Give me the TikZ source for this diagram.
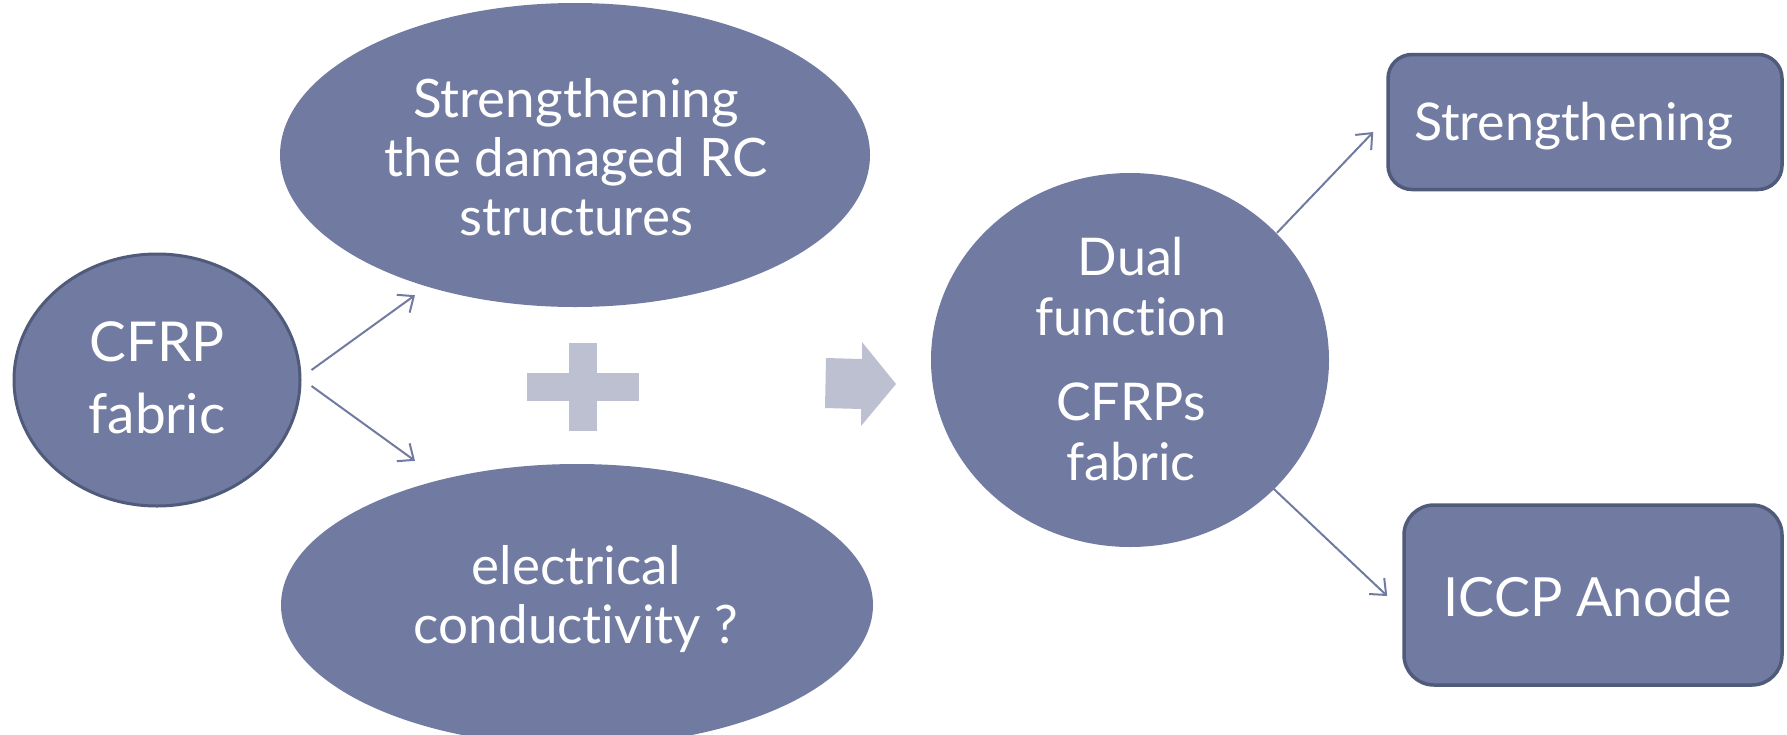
\documentclass[tikz,border=0pt]{standalone}
\usepackage{fontspec}
\setmainfont{Lato}[Ligatures={NoCommon}]
\usetikzlibrary{shapes.geometric,arrows.meta}
\definecolor{fillc}{HTML}{717BA1}
\definecolor{edgec}{HTML}{505A7A}
\definecolor{plusc}{HTML}{BCC0D0}
\begin{document}
\begin{tikzpicture}[x=1pt,y=-1pt,
  oval/.style={ellipse, fill=fillc, inner sep=0pt},
  rbox/.style={rectangle, rounded corners=24pt, fill=fillc, draw=edgec, line width=3.5pt, inner sep=0pt},
  txt/.style={text=white, align=center, inner sep=0pt, font=\fontsize{53}{59}\selectfont},
  conn/.style={draw=fillc, line width=2pt, -{Straight Barb[length=13pt,width=22pt,line width=2pt]}},
  plusfill/.style={fill=plusc, draw=none}]
\useasboundingbox (0,0) rectangle (1787,734);
% shapes
\node[oval, draw=edgec, line width=3pt, minimum width=286pt, minimum height=252pt] (cfrp) at (157,380) {};
\node[oval, minimum width=590pt, minimum height=304pt] (top) at (575,155) {};
\node[oval, minimum width=592pt, minimum height=282pt] (bot) at (577,605) {};
\node[oval, minimum width=398pt, minimum height=374pt] (dual) at (1130,360) {};
\node[rbox, minimum width=394pt, minimum height=135pt] (sbox) at (1585,122) {};
\node[rbox, minimum width=378pt, minimum height=180pt, rounded corners=30pt] (ibox) at (1593,595) {};
% texts
\node[txt, font=\fontsize{55}{72}\selectfont] (tcfrp) at (157,378) {CFRP\\fabric};
\node[txt] (ttop) at (576,157) {Strengthening\\the damaged RC\\structures};
\node[txt] (tbot) at (576,599) {electrical\\conductivity ?};
\node[txt, font=\fontsize{52}{60}\selectfont] (tdual) at (1131,359) {Dual\\function\\[25pt]CFRPs\\fabric};
\node[txt, font=\fontsize{52}{60}\selectfont] (tsbox) at (1574,126) {Strengthening};
\node[txt, font=\fontsize{54}{60}\selectfont] (tibox) at (1588,597) {ICCP Anode};
% plus and block arrow
\fill[plusfill] (527,373) rectangle (639,401);
\fill[plusfill] (569,343) rectangle (597,431);
\fill[plusfill] (826,358) -- (862,359) -- (862,342) -- (896,384) -- (861,426) -- (861,409) -- (825,408) -- cycle;
% connectors
\draw[conn] ([shift={(10,-10)}]cfrp.east) -- ([shift={(-160,-12)}]top.south);
\draw[conn] ([shift={(10,6)}]cfrp.east) -- ([shift={(-162,-3)}]bot.north);
\draw[conn] ([shift={(147,60)}]dual.north) -- ([shift={(-13,10)}]sbox.west);
\draw[conn] ([shift={(143,-59)}]dual.south) -- ([shift={(-15,1)}]ibox.west);
\end{tikzpicture}
\end{document}
